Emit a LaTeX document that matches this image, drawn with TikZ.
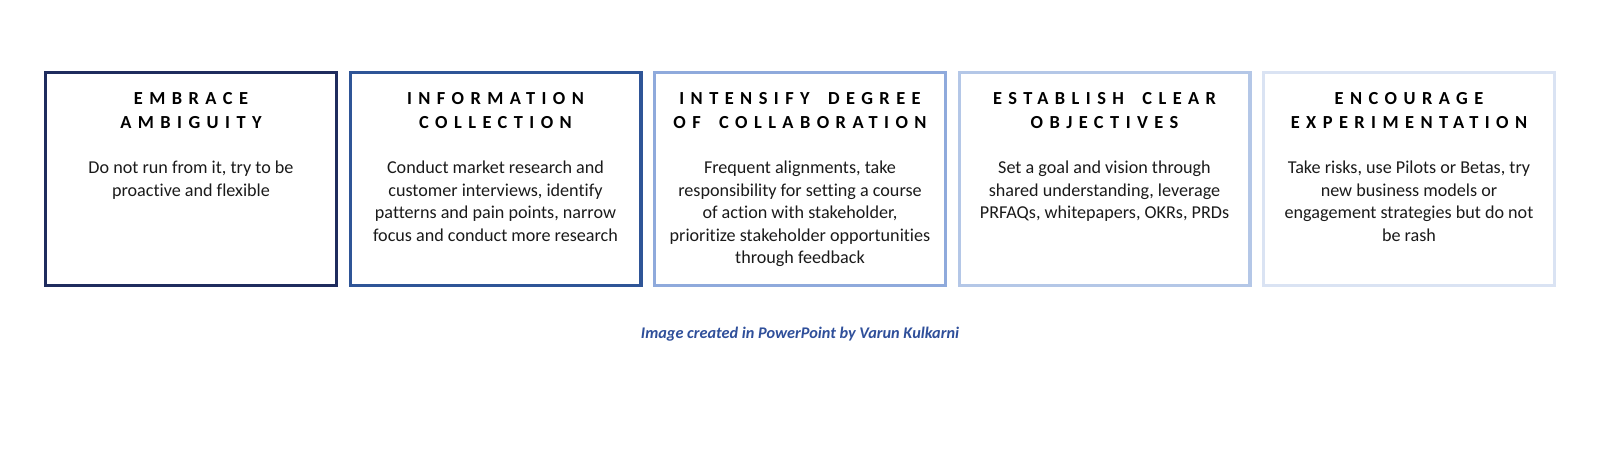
\documentclass[tikz,border=0pt]{standalone}
\usepackage{fontspec}
\setmainfont{Carlito}[Ligatures=NoCommon]
\newfontfamily\headfont[LetterSpace=35]{Carlito}
\usepackage{xcolor}
\usepackage{tikz}
\usetikzlibrary{positioning,calc}

\definecolor{navy}{HTML}{1F2C5E}
\definecolor{royal}{HTML}{2F5597}
\definecolor{sky}{HTML}{8FAADC}
\definecolor{pale}{HTML}{B4C7E7}
\definecolor{mist}{HTML}{DAE3F3}
\definecolor{capblue}{HTML}{2F4F9A}
\definecolor{ink}{HTML}{1A1A1A}

\tikzset{
    stage/.style={draw, line width=2.6pt, minimum width=217.9pt, minimum height=159.4pt, inner sep=0pt},
    headtext/.style={anchor=north, align=center, inner sep=0pt, text=black, font=\headfont\bfseries\fontsize{13.8}{17.8}\selectfont},
    bodytext/.style={anchor=north, align=center, inner sep=0pt, text=ink, font=\fontsize{13.6}{16.8}\selectfont}
}

\begin{document}
\begin{tikzpicture}[x=0.75pt, y=-0.75pt]
    \useasboundingbox (0,0) rectangle (1600,463);

    % Boxes
    \node[stage, draw=navy] (ambiguity) at (191,179) {};
    \node[stage, draw=royal] (collection) at (495.5,179) {};
    \node[stage, draw=sky] (collaboration) at (800,179) {};
    \node[stage, draw=pale] (objectives) at (1104.5,179) {};
    \node[stage, draw=mist] (experiment) at (1409,179) {};

    % Headings
    \node[headtext] (ambiguityHead) at (191,92) {EMBRACE\\AMBIGUITY};
    \node[headtext] (collectionHead) at (495.5,92) {INFORMATION\\COLLECTION};
    \node[headtext] (collaborationHead) at (800,92) {INTENSIFY\quad DEGREE\\OF\quad COLLABORATION};
    \node[headtext] (objectivesHead) at (1104.5,92) {ESTABLISH\quad CLEAR\\OBJECTIVES};
    \node[headtext] (experimentHead) at (1409,92) {ENCOURAGE\\EXPERIMENTATION};

    % Descriptions
    \node[bodytext] (ambiguityText) at (191,161) {Do not run from it, try to be\\proactive and flexible};
    \node[bodytext] (collectionText) at (495.5,161) {Conduct market research and\\customer interviews, identify\\patterns and pain points, narrow\\focus and conduct more research};
    \node[bodytext] (collaborationText) at (800,161) {Frequent alignments, take\\responsibility for setting a course\\of action with stakeholder,\\prioritize stakeholder opportunities\\through feedback};
    \node[bodytext] (objectivesText) at (1104.5,161) {Set a goal and vision through\\shared understanding, leverage\\PRFAQs, whitepapers, OKRs, PRDs};
    \node[bodytext] (experimentText) at (1409,161) {Take risks, use Pilots or Betas, try\\new business models or\\engagement strategies but do not\\be rash};

    % Credit
    \node[text=capblue, font=\bfseries\itshape\fontsize{12.2}{14}\selectfont] (credit) at (800,334) {Image created in PowerPoint by Varun Kulkarni};
\end{tikzpicture}
\end{document}
